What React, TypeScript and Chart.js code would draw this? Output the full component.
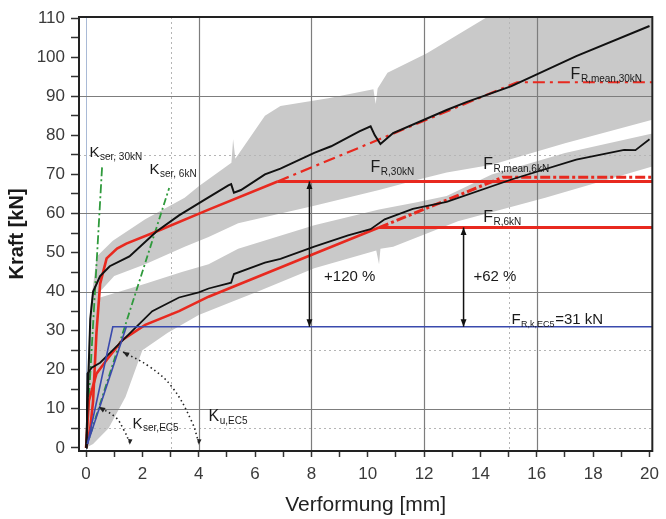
import React, { useEffect, useRef } from 'react';
import { Chart, registerables } from 'chart.js';

Chart.register(...registerables);

type P = [number, number];

// ---- axis ticks & grid values ----
const xTickValues = [0, 1, 2, 3, 4, 5, 6, 7, 8, 9, 10, 11, 12, 13, 14, 15, 16, 17, 18, 19, 20];
const yTickValues = [0, 5, 10, 15, 20, 25, 30, 35, 40, 45, 50, 55, 60, 65, 70, 75, 80, 85, 90, 95, 100, 105, 110];
const xGridSolid = [4, 8, 12, 16];
const xGridDotted = [3, 15];
const xGridZero = [0];
const yGridSolid = [10, 40, 60, 90];
const yGridDotted = [5, 25, 75];

// ---- scatter bands (envelopes of the single tests) ----
const bandALower: P[] = [[0, 0], [0.1, 8], [0.25, 28], [0.5, 40], [1, 44], [2.1, 47], [3.5, 51.5], [4.35, 54], [5.4, 57.5], [8.1, 62], [10.4, 66], [11.7, 68.5], [12.8, 70.5], [14.4, 72.5], [17, 78], [20.1, 84]];
const bandAUpper: P[] = [[0, 0], [0.05, 20], [0.15, 36], [0.38, 49], [0.95, 53], [2.1, 58.5], [3.5, 64], [4, 67], [5.16, 73], [5.22, 79], [5.3, 74], [6.35, 85], [6.9, 87.5], [8.6, 89.5], [10.2, 91.8], [10.28, 88], [10.35, 92], [10.7, 96], [12.1, 101], [14.4, 111], [20.1, 111]];
const bandBLower: P[] = [[0, 0], [0.25, 1], [0.8, 5], [1.4, 13], [2, 25], [2.9, 29.5], [4, 34], [5.2, 37.5], [6.1, 40], [8.1, 46], [10.3, 50.5], [10.4, 47], [10.45, 51], [10.9, 51.5], [13.2, 58], [16.3, 64], [20.1, 72]];
const bandBUpper: P[] = [[0, 0], [0.05, 15], [0.2, 30], [0.5, 38.5], [2.1, 42], [3.4, 45], [4.35, 47], [5.4, 51], [8.1, 57], [10.4, 61], [11.7, 62.8], [12.8, 64.5], [14.4, 70], [17, 75.5], [20.1, 80.5]];

// ---- mean test curves ----
const curveA: P[] = [[0, 0], [0.05, 10], [0.1, 22], [0.15, 33], [0.25, 40], [0.5, 44], [0.84, 46.5], [1.54, 49], [2.5, 55.4], [3.3, 59.5], [4.2, 63.5], [5.05, 67.2], [5.15, 67.5], [5.25, 65.3], [5.5, 66], [6.35, 70], [6.9, 71.5], [8.1, 75.5], [8.7, 77.2], [9.7, 81], [10.1, 82.3], [10.25, 80], [10.45, 77.8], [10.9, 80.6], [12.8, 86.5], [13.5, 88.5], [15.1, 92.6], [17.4, 100.3], [20, 108]];
const curveB: P[] = [[0, 0], [0.03, 10], [0.05, 19], [0.2, 20.5], [0.5, 21.8], [0.95, 25], [1.65, 30], [2.35, 35], [3.3, 38.5], [4, 39.8], [4.35, 40.8], [5.15, 42.3], [5.25, 44.5], [6.35, 47.4], [6.9, 48.4], [8.1, 51.5], [9.3, 54.4], [10.1, 56], [10.6, 58.5], [11.6, 61.2], [12.8, 63], [15.1, 68.7], [17.4, 73.8], [19.1, 76.3], [19.5, 76.2], [20, 79]];

// ---- characteristic (red) curves ----
const redA: P[] = [[0, 0], [0.15, 5], [0.25, 12], [0.37, 29.5], [0.5, 42], [0.73, 48.5], [1.1, 51], [1.43, 52.3], [2.5, 55.4], [4.35, 61], [6.8, 68.2]];
const redALevel: P[] = [[6.8, 68.2], [20.1, 68.2]];
const redAMean: P[] = [[6.8, 68.2], [15.3, 93.6], [20.1, 93.6]];
const redB: P[] = [[0, 0], [0.1, 12], [0.37, 19], [0.73, 22.5], [1.3, 27.7], [2.1, 31.5], [3.3, 35], [4.35, 38.7], [7.86, 49], [10.4, 56.4]];
const redBLevel: P[] = [[10.4, 56.4], [20.1, 56.4]];
const redBMean: P[] = [[10.4, 56.4], [14.8, 69.3], [20.1, 69.3]];

// ---- EC5 idealisation (blue) & stiffness lines (green) ----
const blueSer: P[] = [[0.05, 1], [0.95, 31], [20.1, 31]];
const blueU: P[] = [[0.05, 1], [1.43, 31]];
const greenSer30: P[] = [[0, 0], [0.57, 72]];
const greenSer6: P[] = [[0, 0], [2.95, 66.5]];

// ---- annotation arrows ----
const arrow120: P[] = [[7.93, 31], [7.93, 68.2]];
const arrow62: P[] = [[13.4, 31], [13.4, 56.4]];
const arcSer: P[] = [[1.55, 1.3], [1.35, 4.5], [1.05, 7.8], [0.45, 10.5]];
const arcU: P[] = [[4.0, 1.3], [3.75, 6.8], [3.05, 15.6], [2.25, 20.8], [1.3, 24.6]];

type Label = { x: number; y: number; main: string; sub?: string; tail?: string; size: number; subSize?: number };
const labels: Label[] = [
  { x: 0.12, y: 74.5, main: 'K', sub: 'ser, 30kN', size: 15, subSize: 10 },
  { x: 2.25, y: 70, main: 'K', sub: 'ser, 6kN', size: 15, subSize: 10 },
  { x: 17.2, y: 94.5, main: 'F', sub: 'R,mean,30kN', size: 16, subSize: 10 },
  { x: 10.1, y: 70.5, main: 'F', sub: 'R,30kN', size: 16, subSize: 10 },
  { x: 14.1, y: 71.3, main: 'F', sub: 'R,mean,6kN', size: 16, subSize: 10 },
  { x: 14.1, y: 57.7, main: 'F', sub: 'R,6kN', size: 16, subSize: 10 },
  { x: 15.1, y: 31.6, main: 'F', sub: 'R,k,EC5', tail: '=31 kN', size: 15, subSize: 9 },
  { x: 1.65, y: 5.2, main: 'K', sub: 'ser,EC5', size: 15, subSize: 10 },
  { x: 4.35, y: 7.0, main: 'K', sub: 'u,EC5', size: 16, subSize: 10 },
  { x: 8.45, y: 42.8, main: '+120 %', size: 15 },
  { x: 13.75, y: 42.8, main: '+62 %', size: 15 },
];

const FONT = '"Liberation Sans", Arial, Helvetica, sans-serif';
const GRAY = '#c9c9c9';
const RED = '#e8291f';
const BLACK = '#111111';
const BLUE = '#3a4aad';
const GREEN = '#2f9a3c';

const toXY = (pts: P[]) => pts.map(([x, y]) => ({ x, y }));

const line = (pts: P[], color: string, width: number, order: number, dash: number[] = [], tension = 0) => ({
  data: toXY(pts),
  borderColor: color,
  backgroundColor: color,
  borderWidth: width,
  borderDash: dash,
  pointRadius: 0,
  fill: false,
  tension,
  order,
});

const band = (pts: P[], fill: any) => ({
  data: toXY(pts),
  borderColor: 'rgba(0,0,0,0)',
  backgroundColor: GRAY,
  borderWidth: 1,
  pointRadius: 0,
  fill,
  order: 10,
});

const datasets: any[] = [
  band(bandALower, false),
  band(bandAUpper, '-1'),
  band(bandBLower, false),
  band(bandBUpper, '-1'),
  line(greenSer30, GREEN, 1.8, 6, [9, 3, 2, 3]),
  line(greenSer6, GREEN, 1.8, 6, [7, 3, 2, 3]),
  line(redAMean, RED, 2.2, 5, [12, 5, 3, 5]),
  line(redBMean, RED, 3, 5, [10, 3, 3, 3]),
  line(redA, RED, 2.6, 4),
  line(redALevel, RED, 3, 4),
  line(redB, RED, 2.6, 4),
  line(redBLevel, RED, 3, 4),
  line(curveA, BLACK, 2, 3),
  line(curveB, BLACK, 1.8, 3),
  line(blueSer, BLUE, 1.6, 2),
  line(blueU, BLUE, 1.6, 2),
  line(arrow120, BLACK, 1.5, 1),
  line(arrow62, BLACK, 1.5, 1),
  line(arcSer, '#222', 1.6, 1, [1.5, 3], 0.4),
  line(arcU, '#222', 1.6, 1, [1.5, 3], 0.4),
];

function drawGrid(chart: any) {
  const { ctx, chartArea: a, scales } = chart;
  const xs = scales.x;
  const ys = scales.y;
  ctx.save();
  ctx.beginPath();
  ctx.rect(a.left, a.top, a.right - a.left, a.bottom - a.top);
  ctx.clip();
  const vline = (v: number) => {
    const p = Math.round(xs.getPixelForValue(v)) + 0.5;
    ctx.beginPath();
    ctx.moveTo(p, a.top);
    ctx.lineTo(p, a.bottom);
    ctx.stroke();
  };
  const hline = (v: number) => {
    const p = Math.round(ys.getPixelForValue(v)) + 0.5;
    ctx.beginPath();
    ctx.moveTo(a.left, p);
    ctx.lineTo(a.right, p);
    ctx.stroke();
  };
  ctx.lineWidth = 1;
  ctx.setLineDash([2, 3]);
  ctx.strokeStyle = '#b5b5b5';
  xGridDotted.forEach(vline);
  yGridDotted.forEach(hline);
  ctx.setLineDash([]);
  ctx.strokeStyle = '#a9bad6';
  xGridZero.forEach(vline);
  ctx.strokeStyle = '#7d7d7d';
  ctx.lineWidth = 1.2;
  xGridSolid.forEach(vline);
  yGridSolid.forEach(hline);
  ctx.restore();
}

function arrowHead(ctx: CanvasRenderingContext2D, tip: [number, number], from: [number, number], size: number) {
  const ang = Math.atan2(tip[1] - from[1], tip[0] - from[0]);
  ctx.beginPath();
  ctx.moveTo(tip[0], tip[1]);
  ctx.lineTo(tip[0] - size * Math.cos(ang - 0.38), tip[1] - size * Math.sin(ang - 0.38));
  ctx.lineTo(tip[0] - size * Math.cos(ang + 0.38), tip[1] - size * Math.sin(ang + 0.38));
  ctx.closePath();
  ctx.fill();
}

const overlayPlugin = {
  id: 'overlay',
  beforeDatasetsDraw(chart: any) {
    chart.$gridDone = false;
  },
  beforeDatasetDraw(chart: any, args: any) {
    const ds = chart.data.datasets[args.index];
    if (!chart.$gridDone && ds.order < 10) {
      drawGrid(chart);
      chart.$gridDone = true;
    }
  },
  afterDatasetsDraw(chart: any) {
    const { ctx, chartArea: a, scales } = chart;
    const px = (p: P): [number, number] => [scales.x.getPixelForValue(p[0]), scales.y.getPixelForValue(p[1])];
    if (!chart.$gridDone) drawGrid(chart);
    ctx.save();
    ctx.fillStyle = BLACK;
    // double-headed vertical arrows
    [arrow120, arrow62].forEach((ar) => {
      const p0 = px(ar[0]);
      const p1 = px(ar[1]);
      arrowHead(ctx, p0, p1, 8);
      arrowHead(ctx, p1, p0, 8);
    });
    // arc arrows
    [arcSer, arcU].forEach((arc) => {
      const n = arc.length;
      const tip = px(arc[n - 1]);
      const prev = px(arc[n - 2]);
      ctx.fillStyle = '#222';
      arrowHead(ctx, tip, prev, 7);
      const bottom = px(arc[0]);
      arrowHead(ctx, [bottom[0], bottom[1] + 2], [bottom[0] + 1, bottom[1] - 8], 6);
    });
    // labels
    ctx.fillStyle = '#1a1a1a';
    ctx.textBaseline = 'alphabetic';
    ctx.textAlign = 'left';
    labels.forEach((l) => {
      const [x, y] = px([l.x, l.y]);
      ctx.font = `${l.size}px ${FONT}`;
      ctx.fillText(l.main, x, y);
      let cx = x + ctx.measureText(l.main).width;
      if (l.sub) {
        const ss = l.subSize || 10;
        ctx.font = `${ss}px ${FONT}`;
        ctx.fillText(l.sub, cx + 0.5, y + 3);
        cx += ctx.measureText(l.sub).width + 1;
      }
      if (l.tail) {
        ctx.font = `${l.size}px ${FONT}`;
        ctx.fillText(l.tail, cx, y);
      }
    });
    // frame
    ctx.strokeStyle = '#222';
    ctx.lineWidth = 2;
    ctx.strokeRect(a.left, a.top, a.right - a.left, a.bottom - a.top);
    ctx.restore();
  },
};

export default function App() {
  const ref = useRef<HTMLCanvasElement>(null);
  useEffect(() => {
    const canvas = ref.current as HTMLCanvasElement;
    const chart = new Chart(canvas, {
      type: 'line',
      data: { datasets },
      options: {
        animation: false,
        responsive: false,
        layout: { padding: { left: 0, top: 17, right: 8, bottom: 0 } },
        plugins: { legend: { display: false }, tooltip: { enabled: false } },
        elements: { point: { radius: 0 } },
        scales: {
          x: {
            type: 'linear',
            min: -0.25,
            max: 20.1,
            afterBuildTicks: (s: any) => {
              s.ticks = xTickValues.map((v) => ({ value: v }));
            },
            afterFit: (s: any) => {
              s.height = 68;
            },
            ticks: {
              autoSkip: false,
              maxRotation: 0,
              padding: 7,
              color: '#3a3a3a',
              font: { family: FONT, size: 17 },
              callback: (v: any) => (Number(v) % 2 === 0 ? String(v) : ''),
            },
            grid: { drawOnChartArea: false, drawTicks: true, tickLength: 6, tickColor: '#333', tickWidth: 1.5 },
            border: { display: true, color: '#222', width: 2 },
            title: {
              display: true,
              text: 'Verformung [mm]',
              color: '#222',
              font: { family: FONT, size: 21 },
              padding: { top: 0, bottom: 1 },
            },
          },
          y: {
            type: 'linear',
            min: -0.8,
            max: 110.3,
            afterBuildTicks: (s: any) => {
              s.ticks = yTickValues.map((v) => ({ value: v }));
            },
            afterFit: (s: any) => {
              s.width = 79;
            },
            ticks: {
              autoSkip: false,
              padding: 6,
              color: '#3a3a3a',
              font: { family: FONT, size: 17 },
              callback: (v: any) => (Number(v) % 10 === 0 ? String(v) : ''),
            },
            grid: { drawOnChartArea: false, drawTicks: true, tickLength: 8, tickColor: '#333', tickWidth: 1.5 },
            border: { display: true, color: '#222', width: 2 },
            title: {
              display: true,
              text: 'Kraft [kN]',
              color: '#1a1a1a',
              font: { family: FONT, size: 20, weight: 'bold' },
              padding: { top: 5, bottom: 0 },
            },
          },
        },
      } as any,
      plugins: [overlayPlugin],
    });
    return () => chart.destroy();
  }, []);
  return (
    <canvas
      ref={ref}
      width={666}
      height={519}
      style={{ position: 'absolute', left: 0, top: 0, width: 666, height: 519 }}
    />
  );
}
